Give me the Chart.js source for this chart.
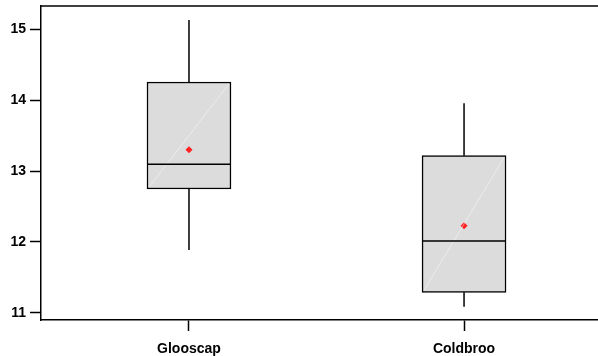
<!DOCTYPE html>
<html>
<head>
<meta charset="utf-8">
<script src="https://cdn.jsdelivr.net/npm/chart.js@4/dist/chart.umd.min.js"></script>
<style>
    html, body { margin: 0; padding: 0; background: #fff; }
    #wrap { width: 598px; height: 356px; }
</style>
</head>
<body>
<div id="wrap"><canvas id="boxChart"></canvas></div>
<script>
// --- Date ---
const categories = ['Glooscap', 'Coldbroo'];
const positions = [1, 2];
const whiskerLow = [11.885, 11.085];
const q1 = [12.746, 11.288];
const median = [13.095, 12.012];
const q3 = [14.256, 13.216];
const whiskerHigh = [15.13, 13.956];
const means = [13.30, 12.228];
const yTicks = [11, 12, 13, 14, 15];

const boxCanvas = document.getElementById('boxChart');
const fontSpec = { family: '"Liberation Sans", Arial, sans-serif', size: 14, weight: 'bold' };

/**
 * Deseneaza mustatile, mediana si chenarul de sus, folosind scalele graficului.
 */
const boxExtras = {
    id: 'boxExtras',
    afterDatasetsDraw(chart) {
        const { ctx, chartArea, scales: { x, y } } = chart;
        const half = 42;
        ctx.save();
        ctx.strokeStyle = '#000';
        ctx.lineWidth = 1.5;
        positions.forEach((pos, i) => {
            const cx = x.getPixelForValue(pos);
            // Linie diagonala foarte slaba in cutie
            ctx.save();
            ctx.strokeStyle = 'rgba(255,255,255,0.45)';
            ctx.lineWidth = 1;
            ctx.beginPath();
            ctx.moveTo(cx - half + 2, y.getPixelForValue(q1[i]) - 2);
            ctx.lineTo(cx + half - 2, y.getPixelForValue(q3[i]) + 2);
            ctx.stroke();
            ctx.restore();

            ctx.beginPath();
            ctx.moveTo(cx, y.getPixelForValue(q3[i]));
            ctx.lineTo(cx, y.getPixelForValue(whiskerHigh[i]));
            ctx.moveTo(cx, y.getPixelForValue(q1[i]));
            ctx.lineTo(cx, y.getPixelForValue(whiskerLow[i]));
            const my = y.getPixelForValue(median[i]);
            ctx.moveTo(cx - half, my);
            ctx.lineTo(cx + half, my);
            ctx.stroke();
        });
        // Chenarul de sus
        ctx.beginPath();
        ctx.moveTo(chartArea.left, chartArea.top);
        ctx.lineTo(chartArea.right, chartArea.top);
        ctx.stroke();
        ctx.restore();
    }
};

new Chart(boxCanvas, {
    type: 'bar',
    data: {
        datasets: [
            {
                type: 'scatter',
                data: positions.map((p, i) => ({ x: p, y: means[i] })),
                pointStyle: 'rectRot',
                pointRadius: 3.5,
                backgroundColor: '#ff2020',
                borderColor: '#ff2020',
                borderWidth: 0,
                order: 0
            },
            {
                data: positions.map((p, i) => ({ x: p, y: [q1[i], q3[i]] })),
                backgroundColor: '#dcdcdc',
                borderColor: '#000',
                borderWidth: 1.5,
                borderSkipped: false,
                barThickness: 84,
                order: 1
            }
        ]
    },
    options: {
        responsive: true,
        maintainAspectRatio: false,
        animation: false,
        layout: { autoPadding: false, padding: { top: 6, right: 0, bottom: 0, left: 0 } },
        plugins: { legend: { display: false }, tooltip: { enabled: false } },
        scales: {
            x: {
                type: 'linear',
                offset: false,
                min: 0.462,
                max: 2.487,
                afterBuildTicks: scale => { scale.ticks = positions.map(v => ({ value: v })); },
                afterFit: scale => {
                    scale.height = 36;
                    scale.paddingLeft = 0;
                    scale.paddingRight = 0;
                },
                ticks: {
                    color: '#000',
                    font: fontSpec,
                    padding: 10,
                    maxRotation: 0,
                    callback: (value) => categories[positions.indexOf(value)]
                },
                grid: { offset: false, drawOnChartArea: false, tickLength: 11, tickColor: '#000', tickWidth: 1.5 },
                border: { color: '#000', width: 1.5 }
            },
            y: {
                min: 10.897,
                max: 15.329,
                afterBuildTicks: scale => { scale.ticks = yTicks.map(v => ({ value: v })); },
                afterFit: scale => {
                    scale.width = 41;
                    scale.paddingTop = 0;
                    scale.paddingBottom = 0;
                },
                ticks: { color: '#000', font: fontSpec, padding: 4 },
                grid: { drawOnChartArea: false, tickLength: 11, tickColor: '#000', tickWidth: 1.5 },
                border: { color: '#000', width: 1.5 }
            }
        }
    },
    plugins: [boxExtras]
});
</script>
</body>
</html>
